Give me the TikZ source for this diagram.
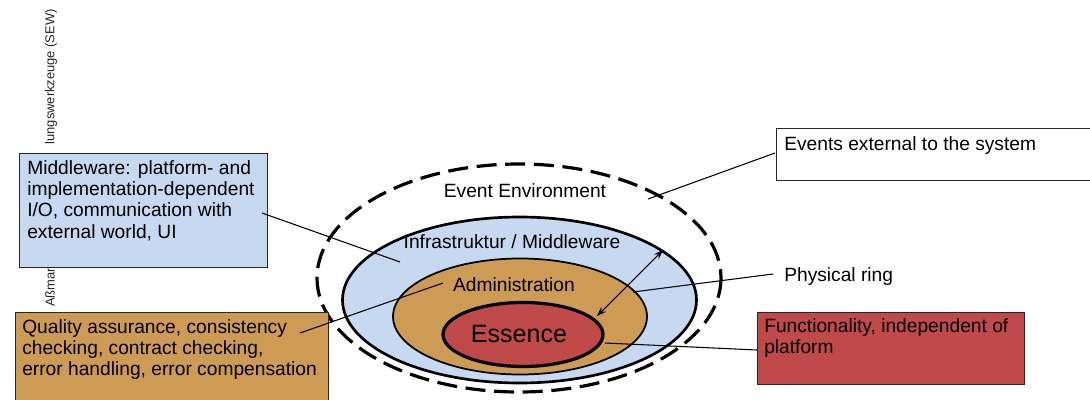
\documentclass[tikz,border=0pt]{standalone}
\usepackage{graphicx}
\usepackage{fontspec}
\setmainfont{Liberation Sans}
\usetikzlibrary{arrows.meta,shapes.geometric}
\definecolor{lblue}{RGB}{198,217,240}
\definecolor{ochre}{RGB}{205,155,84}
\definecolor{brick}{RGB}{192,73,74}
\tikzset{
  box/.style={draw=black!85, line width=1pt, anchor=north west, inner sep=0pt},
  btext/.style={anchor=north west, inner sep=0pt, align=left, font=\fontsize{14.4}{16}\selectfont},
  lbl/.style={inner sep=0pt, font=\fontsize{14.4}{16}\selectfont},
  conn/.style={line width=0.8pt},
  vert/.style={inner sep=0pt, font=\fontsize{9.7}{11}\selectfont, text=black!85},
  ring/.style={ellipse, draw=black, inner sep=0pt}
}
\begin{document}
\begin{tikzpicture}[x=0.75pt,y=-0.75pt]
\useasboundingbox (0,0) rectangle (1090,400);
\fill[white] (0,0) rectangle (1090,400);
% vertical side text (partly hidden)
\node[vert, anchor=north] (sewtext) at (51,9) {\rotatebox{90}{lungswerkzeuge (SEW)}};
\node[vert, anchor=south] (asstext) at (50,307) {\rotatebox{90}{Aßman}};
% rings
\node[ring, draw=none, minimum width=303pt, minimum height=171pt] (env) at (519,278) {};
\draw[line width=2.4pt, dash pattern=on 15pt off 6.5pt] (519,278) ellipse [x radius=202, y radius=114];
\node[ring, line width=2pt, fill=lblue, minimum width=265.5pt, minimum height=124.5pt] (infra) at (519.5,300) {};
\node[ring, line width=1.3pt, fill=ochre, minimum width=190.5pt, minimum height=87pt] (admin) at (520,316.5) {};
\node[ring, line width=2.4pt, fill=brick, minimum width=120pt, minimum height=48pt] (essence) at (523,334.5) {};
% ring labels
\node[lbl] (envlbl) at (525,191) {Event Environment};
\node[lbl] (infralbl) at (512,242) {Infrastruktur / Middleware};
\node[lbl] (adminlbl) at (514,285) {Administration};
\node[inner sep=0pt, font=\fontsize{18.8}{20}\selectfont] (esslbl) at (519,334) {Essence};
% boxes
\node[box, fill=lblue, minimum width=186pt, minimum height=85.5pt] (mw) at (19,153) {};
\node[btext] (mwtext) at (27,160) {Middleware: platform- and\\implementation-dependent\\I/O, communication with\\external world, UI};
\node[box, fill=ochre, minimum width=234.75pt, minimum height=68pt] (qa) at (15,312) {};
\node[btext] (qatext) at (22,319) {Quality assurance, consistency\\checking, contract checking,\\error handling, error compensation};
\node[box, fill=white, minimum width=236pt, minimum height=39pt] (ev) at (776,128) {};
\node[btext] (evtext) at (784,136) {Events external to the system};
\node[lbl, anchor=west] (phys) at (784,277) {Physical ring};
\node[box, fill=brick, minimum width=200.25pt, minimum height=54pt] (fn) at (757,312) {};
\node[btext] (fntext) at (764,318) {Functionality, independent of\\platform};
% connector end points
\coordinate (mwA) at (262,213);
\coordinate (mwB) at (400,262);
\coordinate (qaA) at (300,333);
\coordinate (qaB) at (443,283);
\coordinate (evA) at (648,199);
\coordinate (evB) at (775,153);
\coordinate (phA) at (633,292);
\coordinate (phB) at (773,274);
\coordinate (fnA) at (605,343);
\coordinate (fnB) at (757,350);
\coordinate (arA) at (663,250);
\coordinate (arB) at (597,316);
% connectors
\draw[conn] (mwA) -- (mwB);
\draw[conn] (qaA) -- (qaB);
\draw[conn] (evA) -- (evB);
\draw[conn] (phA) -- (phB);
\draw[conn] (fnA) -- (fnB);
\draw[conn, {Stealth[length=7pt,width=5pt]}-{Stealth[length=7pt,width=5pt]}] (arA) -- (arB);
\end{tikzpicture}
\end{document}
